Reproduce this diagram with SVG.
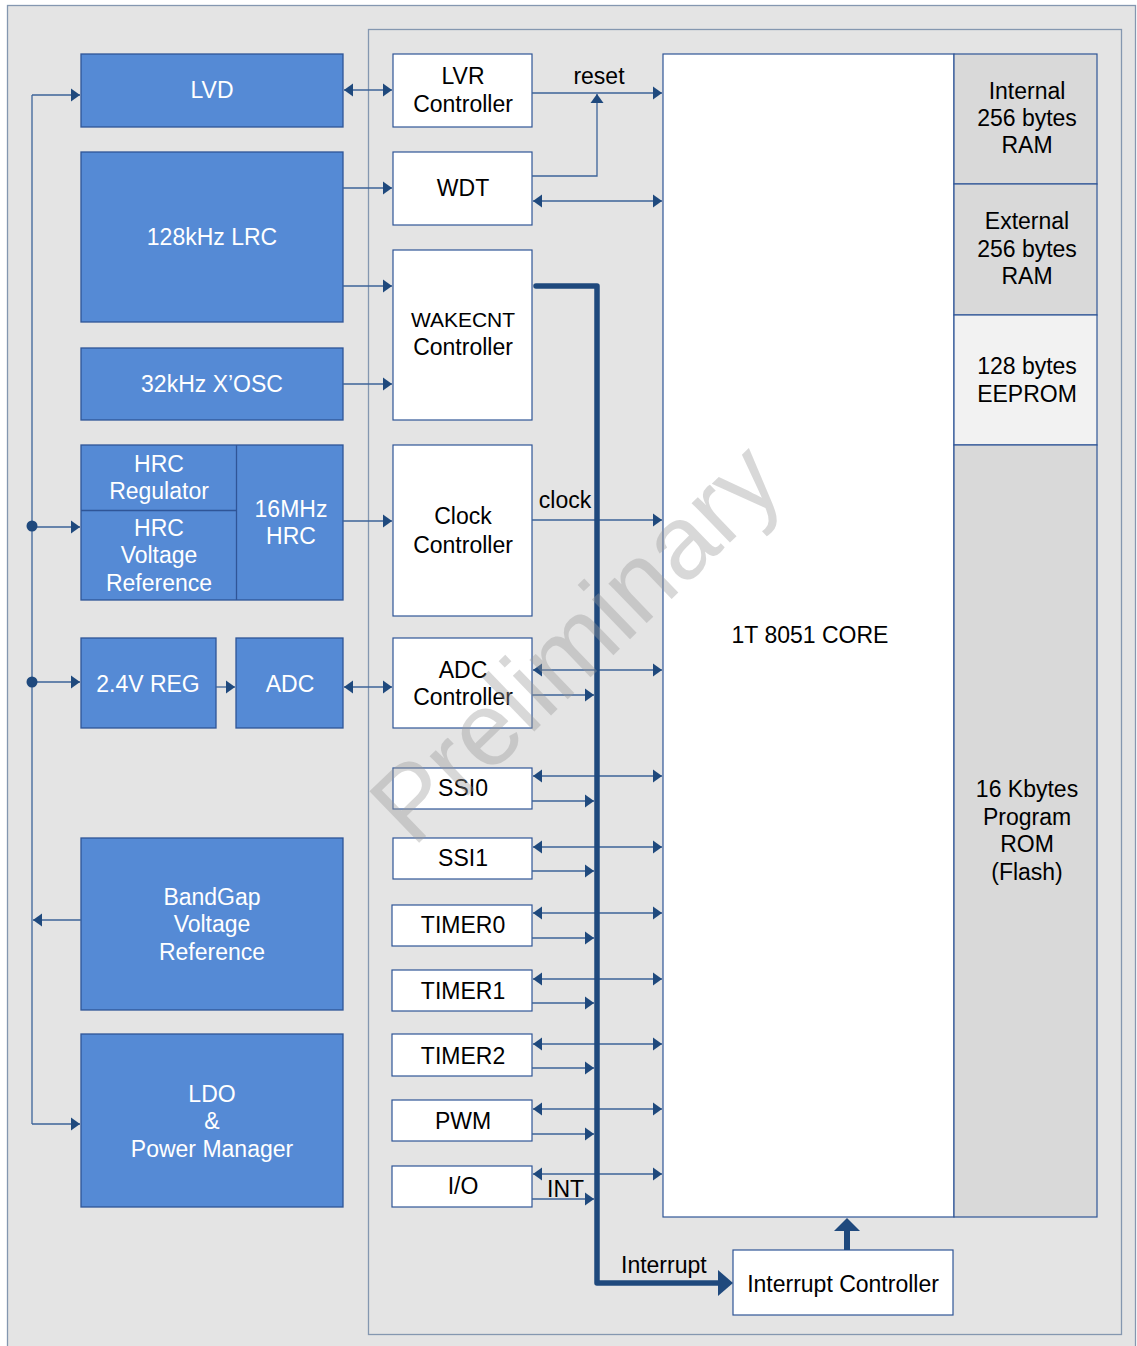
<svg xmlns="http://www.w3.org/2000/svg" width="1137" height="1346" viewBox="0 0 1137 1346">
<style>
text{font-family:"Liberation Sans",Arial,sans-serif;font-size:23px;text-anchor:middle;fill:#000}
.w{fill:#fff}
.blue{fill:#558ad5;stroke:#2f5597;stroke-width:1.3}
.wb{fill:#fff;stroke:#2f5597;stroke-width:1.2}
.mem{fill:#d9d9d9;stroke:#2f5597;stroke-width:1.2}
.ln{fill:none;stroke:#3c6399;stroke-width:1.3}
.both{marker-start:url(#ah);marker-end:url(#ah)}
.end{marker-end:url(#ah)}
.l{text-anchor:start}
</style>
<defs>
<marker id="ah" markerUnits="userSpaceOnUse" markerWidth="10" markerHeight="14" refX="9" refY="6.5" orient="auto-start-reverse" viewBox="0 0 10 13">
<path d="M0,0 L9,6.5 L0,13 z" fill="#1f497d"/>
</marker>
</defs>
<rect x="7.5" y="5.5" width="1128" height="1345" fill="#e4e4e4" stroke="#8497b0" stroke-width="1.3"/>
<rect x="368.5" y="29.5" width="753" height="1305" fill="#e4e4e4" stroke="#8497b0" stroke-width="1.3"/>

<g id="lvd"><rect class="blue" x="81" y="54" width="262" height="73"/><text class="w" x="212" y="98">LVD</text></g>
<g id="lrc"><rect class="blue" x="81" y="152" width="262" height="170"/><text class="w" x="212" y="245">128kHz LRC</text></g>
<g id="xosc"><rect class="blue" x="81" y="348" width="262" height="72"/><text class="w" x="212" y="392">32kHz X’OSC</text></g>
<g id="hrc">
<rect class="blue" x="81" y="445" width="262" height="155"/>
<line x1="236.5" y1="445" x2="236.5" y2="600" stroke="#2f5597" stroke-width="1.3"/>
<line x1="81" y1="510.5" x2="236.5" y2="510.5" stroke="#2f5597" stroke-width="1.3"/>
<text class="w" x="159" y="472">HRC</text><text class="w" x="159" y="499">Regulator</text>
<text class="w" x="159" y="536">HRC</text><text class="w" x="159" y="563">Voltage</text><text class="w" x="159" y="591">Reference</text>
<text class="w" x="291" y="517">16MHz</text><text class="w" x="291" y="544">HRC</text>
</g>
<g id="reg"><rect class="blue" x="81" y="638" width="135" height="90"/><text class="w" x="148" y="692">2.4V REG</text></g>
<g id="adc"><rect class="blue" x="236" y="638" width="107" height="90"/><text class="w" x="290" y="692">ADC</text></g>
<g id="bandgap"><rect class="blue" x="81" y="838" width="262" height="172"/><text class="w" x="212" y="905">BandGap</text><text class="w" x="212" y="932">Voltage</text><text class="w" x="212" y="960">Reference</text></g>
<g id="ldo"><rect class="blue" x="81" y="1034" width="262" height="173"/><text class="w" x="212" y="1102">LDO</text><text class="w" x="212" y="1129">&amp;</text><text class="w" x="212" y="1157">Power Manager</text></g>

<g id="lvr"><rect class="wb" x="393" y="54" width="139" height="73"/><text x="463" y="84">LVR</text><text x="463" y="112">Controller</text></g>
<g id="wdt"><rect class="wb" x="393" y="152" width="139" height="73"/><text x="463" y="196">WDT</text></g>
<g id="wakecnt"><rect class="wb" x="393" y="250" width="139" height="170"/><text x="463" y="327" style="font-size:21px">WAKECNT</text><text x="463" y="355">Controller</text></g>
<g id="clockctl"><rect class="wb" x="393" y="445" width="139" height="171"/><text x="463" y="524">Clock</text><text x="463" y="553">Controller</text></g>
<g id="adcctl"><rect class="wb" x="393" y="638" width="139" height="90"/><text x="463" y="678">ADC</text><text x="463" y="705">Controller</text></g>
<g id="ssi0"><rect class="wb" x="393" y="768" width="139" height="41"/><text x="463" y="796">SSI0</text></g>
<g id="ssi1"><rect class="wb" x="393" y="838" width="139" height="41"/><text x="463" y="866">SSI1</text></g>
<g id="timer0"><rect class="wb" x="392" y="905" width="140" height="41"/><text x="463" y="933">TIMER0</text></g>
<g id="timer1"><rect class="wb" x="392" y="970" width="140" height="41"/><text x="463" y="999">TIMER1</text></g>
<g id="timer2"><rect class="wb" x="392" y="1034" width="140" height="42"/><text x="463" y="1064">TIMER2</text></g>
<g id="pwm"><rect class="wb" x="392" y="1100" width="140" height="41"/><text x="463" y="1129">PWM</text></g>
<g id="io"><rect class="wb" x="392" y="1166" width="140" height="41"/><text x="463" y="1194">I/O</text></g>

<g id="core"><rect class="wb" x="663" y="54" width="291" height="1163"/><text x="810" y="643">1T 8051 CORE</text></g>
<g id="iram"><rect class="mem" x="954" y="54" width="143" height="130"/><text x="1027" y="99">Internal</text><text x="1027" y="126">256 bytes</text><text x="1027" y="153">RAM</text></g>
<g id="xram"><rect class="mem" x="954" y="184" width="143" height="131"/><text x="1027" y="229">External</text><text x="1027" y="257">256 bytes</text><text x="1027" y="284">RAM</text></g>
<g id="eeprom"><rect class="mem" style="fill:#f2f2f2" x="954" y="315" width="143" height="130"/><text x="1027" y="374">128 bytes</text><text x="1027" y="402">EEPROM</text></g>
<g id="flash"><rect class="mem" x="954" y="445" width="143" height="772"/><text x="1027" y="797">16 Kbytes</text><text x="1027" y="825">Program</text><text x="1027" y="852">ROM</text><text x="1027" y="880">(Flash)</text></g>
<g id="intctl"><rect class="wb" x="733" y="1250" width="220" height="65"/><text x="843" y="1292">Interrupt Controller</text></g>

<g id="connectors">
<path class="ln" d="M32,95 V1124"/>
<path class="ln end" d="M32,95 H80"/>
<path class="ln end" d="M32,527 H80"/>
<path class="ln end" d="M32,682 H80"/>
<path class="ln end" d="M32,1124 H80"/>
<path class="ln end" d="M81,920 H33"/>
<circle cx="32" cy="526" r="5.5" fill="#1f497d"/>
<circle cx="32" cy="682" r="5.5" fill="#1f497d"/>
<path class="ln both" d="M344,90 H392"/>
<path class="ln end" d="M343,188 H392"/>
<path class="ln end" d="M343,286 H392"/>
<path class="ln end" d="M343,384 H392"/>
<path class="ln end" d="M343,521 H392"/>
<path class="ln end" d="M216,687 H235"/>
<path class="ln both" d="M344,687 H392"/>
<path class="ln end" d="M532,93 H662"/>
<path class="ln end" d="M532,176 H597 V94"/>
<path class="ln both" d="M533,201 H662"/>
<path class="ln end" d="M532,520 H662"/>
<path class="ln both" d="M533,670 H662"/><path class="ln end" d="M532,695 H594"/>
<path class="ln both" d="M533,776 H662"/><path class="ln end" d="M532,801 H594"/>
<path class="ln both" d="M533,847 H662"/><path class="ln end" d="M532,871 H594"/>
<path class="ln both" d="M533,913 H662"/><path class="ln end" d="M532,938 H594"/>
<path class="ln both" d="M533,979 H662"/><path class="ln end" d="M532,1003 H594"/>
<path class="ln both" d="M533,1044 H662"/><path class="ln end" d="M532,1068 H594"/>
<path class="ln both" d="M533,1109 H662"/><path class="ln end" d="M532,1134 H594"/>
<path class="ln both" d="M533,1174 H662"/><path class="ln end" d="M532,1199 H594"/>
<path d="M536,286 H597 V1283 H720" fill="none" stroke="#1f497d" stroke-width="5.5" stroke-linecap="round" stroke-linejoin="round"/>
<polygon points="733,1283 718,1270 718,1296" fill="#1f497d"/>
<line x1="847" y1="1250" x2="847" y2="1229" stroke="#1f497d" stroke-width="6"/>
<polygon points="847,1218 834,1231 860,1231" fill="#1f497d"/>
<text x="599" y="84">reset</text>
<text x="565" y="508">clock</text>
<text class="l" x="547" y="1197">INT</text>
<text class="l" x="621" y="1273">Interrupt</text>
</g>
<text x="600" y="668" transform="rotate(-44 600 668)" style="font-size:104px;fill:#9a9a9a;opacity:0.38">Preliminary</text>
</svg>
